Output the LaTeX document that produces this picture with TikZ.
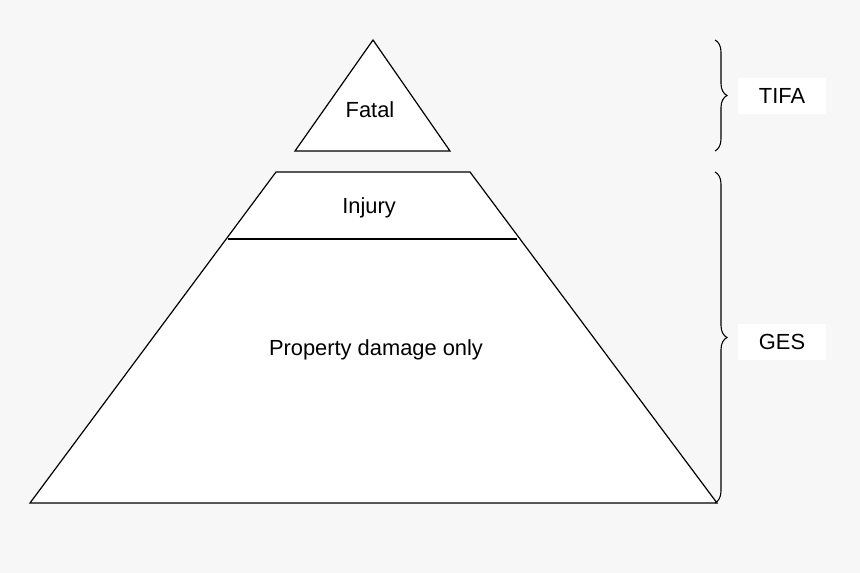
\documentclass[tikz,border=0pt]{standalone}
\usepackage{fontspec}
\setmainfont{Liberation Sans}
\usetikzlibrary{decorations.pathreplacing}
\begin{document}
\begin{tikzpicture}[x=0.75pt,y=-0.75pt,
  pyr/.style={draw=black,fill=white,line width=0.9pt,line join=miter},
  lbl/.style={font=\fontsize{16.4pt}{18pt}\selectfont},
  bx/.style={fill=white,minimum width=66pt,minimum height=27pt,inner sep=0pt,font=\fontsize{16.4pt}{18pt}\selectfont},
  br/.style={draw=black,line width=0.8pt,decorate,decoration={brace,amplitude=9pt}}]
\fill[fill={rgb,255:red,247;green,247;blue,247}] (0,0) rectangle (860,573);
\useasboundingbox (0,0) rectangle (860,573);
\coordinate (ta) at (373,40); \coordinate (tl) at (295,151); \coordinate (tr) at (450,151);
\draw[pyr] (ta) -- (tr) -- (tl) -- cycle;
\coordinate (q1) at (276,172); \coordinate (q2) at (470,172);
\coordinate (q3) at (717,503); \coordinate (q4) at (30,503);
\draw[pyr] (q1) -- (q2) -- (q3) -- (q4) -- cycle;
\coordinate (il) at (228,239); \coordinate (ir) at (517,239);
\draw[line width=0.9pt] (il) -- (ir);
\node[lbl] (fatal) at (370,110) {Fatal};
\node[lbl] (injury) at (369,208) {Injury};
\node[lbl] (pdo) at (376,350) {Property damage only};
\coordinate (b1t) at (715,40); \coordinate (b1b) at (715,151);
\coordinate (b2t) at (715,172); \coordinate (b2b) at (715,503);
\draw[br] (b1t) -- (b1b);
\draw[br] (b2t) -- (b2b);
\node[bx] (tifa) at (782,96) {TIFA};
\node[bx] (ges) at (782,342) {GES};
\end{tikzpicture}
\end{document}
